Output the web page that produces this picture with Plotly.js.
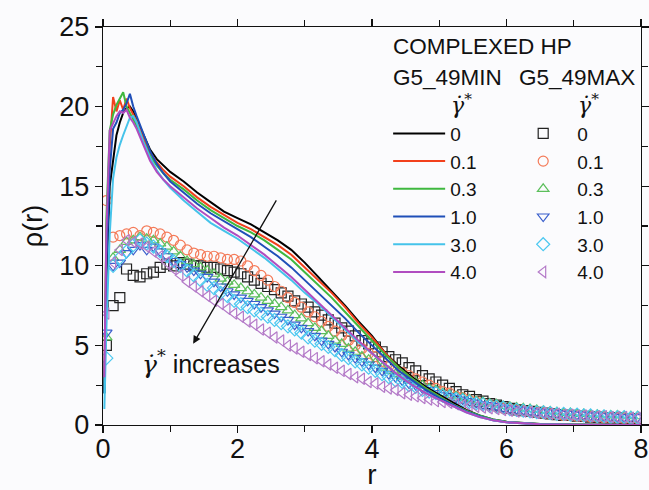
<!DOCTYPE html>
<html>
<head>
<meta charset="utf-8">
<script src="https://cdn.plot.ly/plotly-3.0.1.min.js"></script>
<style>html,body{margin:0;padding:0;background:#fbfbfd;}</style>
</head>
<body>
<div id="chart" style="width:649px;height:490px;"></div>
<script>
// ---- data ----
const seriesNames = ['0', '0.1', '0.3', '1.0', '3.0', '4.0'];
const xTicks = [0, 2, 4, 6, 8];
const yTicks = [0, 5, 10, 15, 20, 25];

// G5_49MIN (lines)
const lineR = [0.02,0.05,0.1,0.15,0.2,0.25,0.3,0.35,0.4,0.45,0.5,0.6,0.7,0.8,0.9,1.0,1.2,1.4,1.6,1.8,2.0,2.2,2.4,2.6,2.8,3.0,3.2,3.4,3.6,3.8,4.0,4.2,4.4,4.6,4.8,5.0,5.2,5.4,5.6,5.8,6.0,6.5,7.0,7.5,8.0];
const minG0  = [2,9,15,16.8,18.2,19.0,19.6,19.9,20.0,19.7,19.2,18.2,17.3,16.7,16.3,15.9,15.3,14.6,14.0,13.4,13.0,12.6,12.1,11.6,11.0,10.2,9.3,8.4,7.5,6.5,5.6,4.5,3.7,3.0,2.4,1.9,1.4,0.95,0.6,0.35,0.2,0.06,0.02,0.01,0];
const minG01 = [3,12,17.5,20.6,19.7,20.4,19.8,20.5,19.9,19.5,19.1,18.0,17.1,16.5,16.0,15.6,15.0,14.3,13.7,13.2,12.7,12.3,11.8,11.3,10.7,9.9,9.1,8.3,7.4,6.4,5.5,4.5,3.6,2.9,2.3,1.8,1.3,0.9,0.55,0.32,0.18,0.05,0.02,0.01,0];
const minG03 = [2,13,18.5,19.5,20.1,20.5,20.9,20.0,19.6,19.3,18.8,17.8,16.9,16.3,15.8,15.4,14.8,14.1,13.5,13.0,12.5,12.1,11.6,11.0,10.4,9.6,8.8,8.0,7.1,6.2,5.3,4.4,3.6,2.9,2.3,1.8,1.3,0.9,0.6,0.35,0.2,0.06,0.02,0.01,0];
const minG10 = [2,10,16,18.6,19.0,19.6,19.8,20.2,20.8,20.0,19.4,18.3,17.2,16.4,15.8,15.3,14.6,13.9,13.3,12.8,12.3,11.8,11.2,10.6,9.9,9.1,8.3,7.5,6.7,5.8,5.0,4.2,3.4,2.8,2.2,1.7,1.25,0.85,0.55,0.3,0.17,0.05,0.02,0.01,0];
const minG30 = [1,6,12,15.5,16.8,17.6,18.2,18.8,19.3,19.4,19.0,17.8,16.8,16.0,15.4,14.9,14.1,13.4,12.7,12.2,11.7,11.1,10.5,9.8,9.1,8.3,7.6,6.8,6.0,5.2,4.5,3.8,3.1,2.5,2.0,1.6,1.2,0.8,0.5,0.3,0.17,0.05,0.02,0.01,0];
const minG40 = [3,12,18.5,19.0,19.4,19.7,19.6,19.8,19.3,19.0,18.6,17.6,16.6,15.9,15.4,15.0,14.3,13.6,13.0,12.4,11.9,11.3,10.7,10.0,9.3,8.5,7.7,6.9,6.1,5.3,4.5,3.8,3.1,2.5,2.0,1.6,1.2,0.8,0.5,0.3,0.17,0.05,0.02,0.01,0];

// G5_49MAX (open markers)
const markR = [0.05,0.15,0.25,0.35,0.45,0.55,0.65,0.75,0.85,0.95,
  1.05,1.15,1.25,1.35,1.45,1.55,1.65,1.75,1.85,1.95,
  2.05,2.15,2.25,2.35,2.45,2.55,2.65,2.75,2.85,2.95,
  3.05,3.15,3.25,3.35,3.45,3.55,3.65,3.75,3.85,3.95,
  4.05,4.15,4.25,4.35,4.45,4.55,4.65,4.75,4.85,4.95,
  5.05,5.15,5.25,5.35,5.45,5.55,5.65,5.75,5.85,5.95,
  6.05,6.15,6.25,6.35,6.45,6.55,6.65,6.75,6.85,6.95,
  7.05,7.15,7.25,7.35,7.45,7.55,7.65,7.75,7.85,7.95];
const maxG0 = [5.0,7.5,8.0,9.8,9.4,9.3,9.5,9.6,9.9,10.1,
  10.0,10.2,10.1,10.0,10.0,9.9,9.9,9.8,9.7,9.6,
  9.5,9.3,9.1,8.9,8.7,8.5,8.3,8.1,7.8,7.6,
  7.4,7.1,6.9,6.6,6.4,6.1,5.9,5.6,5.3,5.1,
  4.9,4.6,4.3,4.1,3.9,3.6,3.4,3.1,2.9,2.7,
  2.5,2.3,2.1,1.9,1.8,1.6,1.5,1.35,1.25,1.15,
  1.05,0.95,0.9,0.85,0.8,0.75,0.7,0.65,0.6,0.6,
  0.55,0.55,0.5,0.5,0.45,0.45,0.45,0.4,0.4,0.4];
const maxG01 = [14.1,11.8,11.9,12.0,12.1,11.9,12.2,12.1,12.0,11.8,
  11.6,11.3,11.0,10.8,10.7,10.6,10.6,10.5,10.4,10.4,
  10.3,10.0,9.7,9.4,9.1,8.7,8.4,8.0,7.7,7.4,
  7.1,6.8,6.5,6.2,5.9,5.6,5.3,5.0,4.8,4.5,
  4.3,4.0,3.7,3.5,3.3,3.1,2.9,2.7,2.5,2.3,
  2.1,2.0,1.8,1.7,1.55,1.45,1.35,1.25,1.15,1.05,
  1.0,0.95,0.9,0.85,0.8,0.75,0.7,0.65,0.6,0.6,
  0.55,0.55,0.5,0.5,0.45,0.45,0.45,0.4,0.4,0.4];
const maxG03 = [5.5,10.5,11.0,11.5,11.6,11.8,11.7,11.6,11.4,11.2,
  10.9,10.6,10.3,10.1,9.9,9.7,9.5,9.2,9.0,8.8,
  8.6,8.4,8.2,8.0,7.8,7.6,7.4,7.2,6.9,6.7,
  6.4,6.1,5.9,5.6,5.3,5.1,4.8,4.6,4.3,4.1,
  3.9,3.6,3.4,3.2,3.0,2.8,2.7,2.5,2.3,2.2,
  2.0,1.9,1.8,1.7,1.6,1.5,1.45,1.35,1.3,1.2,
  1.15,1.1,1.05,1.0,0.95,0.9,0.85,0.8,0.75,0.75,
  0.7,0.7,0.65,0.65,0.6,0.6,0.6,0.55,0.55,0.55];
const maxG10 = [5.8,10.0,10.2,10.8,11.0,11.3,11.0,11.2,10.9,10.6,
  10.3,10.1,9.9,9.7,9.5,9.3,9.0,8.7,8.4,8.2,
  8.0,7.8,7.6,7.4,7.2,7.0,6.8,6.6,6.3,6.1,
  5.9,5.6,5.3,5.1,4.9,4.6,4.4,4.2,4.0,3.8,
  3.6,3.4,3.2,3.0,2.8,2.6,2.5,2.3,2.2,2.0,
  1.9,1.8,1.7,1.6,1.5,1.4,1.3,1.25,1.2,1.1,
  1.05,1.0,0.95,0.9,0.85,0.8,0.8,0.75,0.7,0.7,
  0.65,0.65,0.6,0.6,0.55,0.55,0.5,0.5,0.5,0.5];
const maxG30 = [4.2,10.0,10.5,10.9,11.3,11.6,11.4,11.2,10.9,10.6,
  10.3,10.0,9.7,9.4,9.1,8.8,8.6,8.3,8.1,7.8,
  7.6,7.4,7.2,7.0,6.8,6.6,6.4,6.2,6.0,5.8,
  5.5,5.3,5.1,4.9,4.7,4.4,4.2,4.0,3.8,3.6,
  3.4,3.2,3.0,2.8,2.7,2.5,2.4,2.2,2.1,2.0,
  1.85,1.75,1.65,1.55,1.45,1.35,1.3,1.2,1.15,1.1,
  1.0,0.95,0.9,0.85,0.8,0.8,0.75,0.7,0.7,0.65,
  0.65,0.6,0.6,0.55,0.55,0.5,0.5,0.5,0.45,0.45];
const maxG40 = [7.0,10.2,11.0,11.6,11.5,11.4,11.2,10.9,10.6,10.2,
  9.8,9.4,9.0,8.7,8.4,8.1,7.8,7.6,7.3,7.0,
  6.8,6.5,6.3,6.0,5.8,5.5,5.3,5.0,4.8,4.6,
  4.4,4.2,4.0,3.8,3.6,3.4,3.2,3.0,2.9,2.7,
  2.6,2.4,2.3,2.2,2.0,1.9,1.8,1.7,1.6,1.5,
  1.45,1.4,1.3,1.25,1.2,1.15,1.1,1.05,1.0,0.95,
  0.9,0.85,0.85,0.8,0.75,0.75,0.7,0.7,0.65,0.65,
  0.6,0.6,0.55,0.55,0.55,0.5,0.5,0.5,0.45,0.45];

// ---- styling ----
const lineColors = ['#000000', '#f2401c', '#3fb83f', '#1f4fb8', '#45c3ea', '#b04cc0'];
const markColors = ['#222222', '#f47a58', '#5cbf5c', '#3a5fcc', '#4cc8f0', '#b47ac8'];
const markSymbols = ['square-open', 'circle-open', 'triangle-up-open', 'triangle-down-open', 'diamond-open', 'triangle-left-open'];
const minSeries = [minG0, minG01, minG03, minG10, minG30, minG40];
const maxSeries = [maxG0, maxG01, maxG03, maxG10, maxG30, maxG40];

const traces = [];
maxSeries.forEach((ys, i) => {
  traces.push({
    x: markR, y: ys, type: 'scatter', mode: 'markers', name: seriesNames[i],
    legend: 'legend2', legendgroup: 'b' + i,
    marker: {symbol: markSymbols[i], size: 10, color: markColors[i], line: {width: 1.2, color: markColors[i]}}
  });
});
minSeries.forEach((ys, i) => {
  traces.push({
    x: lineR, y: ys, type: 'scatter', mode: 'lines', name: seriesNames[i],
    legend: 'legend', legendgroup: 'a' + i,
    line: {color: lineColors[i], width: 2}
  });
});

const gam = '<i>γ̇</i><sup>*</sup>';
const gamFont = 'DejaVu Serif, Liberation Serif, serif';
const axisCommon = {
  showline: true, linecolor: '#111', linewidth: 1.3, mirror: 'ticks',
  ticks: 'outside', ticklen: 7, tickwidth: 1.3, tickcolor: '#111',
  showgrid: false, zeroline: false,
  tickfont: {size: 27, color: '#111'}
};
const layout = {
  width: 649, height: 490,
  margin: {l: 103, r: 8, t: 27, b: 65},
  paper_bgcolor: '#fbfbfd', plot_bgcolor: '#fbfbfd',
  font: {family: 'Liberation Sans, Arial, sans-serif', color: '#111'},
  xaxis: Object.assign({}, axisCommon, {
    range: [0, 8], tickmode: 'array', tickvals: xTicks, ticktext: xTicks.map(String),
    ticklabelstandoff: -8,
    minor: {dtick: 1, ticks: 'outside', ticklen: 6, tickwidth: 1.3, tickcolor: '#111'},
    title: {text: 'r', font: {size: 28}, standoff: 14}
  }),
  yaxis: Object.assign({}, axisCommon, {
    range: [0, 25], tickmode: 'array', tickvals: yTicks, ticktext: yTicks.map(String),
    minor: {dtick: 2.5, ticks: 'outside', ticklen: 6, tickwidth: 1.3, tickcolor: '#111'},
    title: {text: 'ρ(r)', font: {size: 27}, standoff: 8}
  }),
  showlegend: true,
  legend: {x: 0.53, y: 0.78, xanchor: 'left', yanchor: 'top', bgcolor: 'rgba(0,0,0,0)',
    font: {size: 19}, itemwidth: 52, traceorder: 'normal', tracegroupgap: 0},
  legend2: {x: 0.755, y: 0.78, xanchor: 'left', yanchor: 'top', bgcolor: 'rgba(0,0,0,0)',
    font: {size: 19}, itemwidth: 58, traceorder: 'normal', tracegroupgap: 0},
  annotations: [
    {xref: 'paper', yref: 'paper', x: 0.536, y: 0.950, xanchor: 'left', yanchor: 'middle', showarrow: false,
     text: 'COMPLEXED HP', font: {size: 22.5}},
    {xref: 'paper', yref: 'paper', x: 0.536, y: 0.874, xanchor: 'left', yanchor: 'middle', showarrow: false,
     text: 'G5_49MIN', font: {size: 22.5}},
    {xref: 'paper', yref: 'paper', x: 0.769, y: 0.874, xanchor: 'left', yanchor: 'middle', showarrow: false,
     text: 'G5_49MAX', font: {size: 22.5}},
    {xref: 'paper', yref: 'paper', x: 0.667, y: 0.806, xanchor: 'center', yanchor: 'middle', showarrow: false,
     text: gam, font: {size: 22, family: gamFont}},
    {xref: 'paper', yref: 'paper', x: 0.902, y: 0.806, xanchor: 'center', yanchor: 'middle', showarrow: false,
     text: gam, font: {size: 22, family: gamFont}},
    {xref: 'x', yref: 'y', x: 1.34, y: 5.1, ax: 2.59, ay: 14.2, axref: 'x', ayref: 'y',
     showarrow: true, arrowhead: 2, arrowsize: 1.2, arrowwidth: 1.3, arrowcolor: '#111', text: ''},
    {xref: 'x', yref: 'y', x: 0.55, y: 3.9, xanchor: 'left', yanchor: 'middle', showarrow: false,
     text: '<span style="font-family:DejaVu Serif">' + gam + '</span> increases', font: {size: 25}}
  ]
};
Plotly.newPlot('chart', traces, layout, {displayModeBar: false, staticPlot: true});
</script>
</body>
</html>
